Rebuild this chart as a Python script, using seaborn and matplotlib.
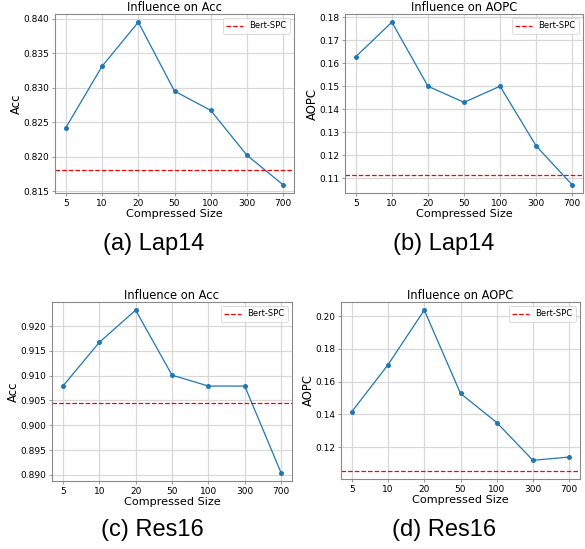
import matplotlib
matplotlib.use("Agg")
import matplotlib.pyplot as plt
import seaborn as sns
import pandas as pd

sizes = ["5", "10", "20", "50", "100", "300", "700"]
lap14_acc = [0.8242, 0.8331, 0.8395, 0.8295, 0.8267, 0.8202, 0.8159]
lap14_aopc = [0.1628, 0.1778, 0.1500, 0.1430, 0.1500, 0.1241, 0.1072]
res16_acc = [0.9079, 0.9167, 0.9232, 0.9101, 0.9079, 0.9079, 0.8904]
res16_aopc = [0.1417, 0.1704, 0.2038, 0.1528, 0.1350, 0.1119, 0.1139]
baselines = [0.8181, 0.1113, 0.9044, 0.1054]
titles = ["Influence on Acc", "Influence on AOPC", "Influence on Acc", "Influence on AOPC"]
ylabels = ["Acc", "AOPC", "Acc", "AOPC"]
captions = ["(a) Lap14", "(b) Lap14", "(c) Res16", "(d) Res16"]
baseline_name = "Bert-SPC"

sns.set_style("whitegrid", {"axes.edgecolor": "#8a8a8a", "grid.color": "#d8d8d8",
                            "xtick.bottom": True, "ytick.left": True})
plt.rcParams['font.family'] = ['DejaVu Sans']
plt.rcParams['text.color'] = 'black'
plt.rcParams['axes.labelcolor'] = 'black'
plt.rcParams['xtick.labelcolor'] = 'black'
plt.rcParams['ytick.labelcolor'] = 'black'

fig = plt.figure(figsize=(5.85, 5.49), dpi=100)
W, H = 585, 549
boxes = [(55, 14, 294, 193), (345, 14, 583, 193), (52, 302, 292, 481), (341, 302, 580, 479)]
series = [lap14_acc, lap14_aopc, res16_acc, res16_aopc]
cap_pos = [(154, 244), (444, 244), (152, 530), (444, 530)]

for i in range(4):
    l, t, r, b = boxes[i]
    ax = fig.add_axes([l / W, (H - b) / H, (r - l) / W, (b - t) / H])
    df = pd.DataFrame({"size": sizes, "val": series[i]})
    sns.lineplot(data=df, x="size", y="val", ax=ax, marker="o", markersize=3.6,
                 markeredgewidth=0, color="#1f77b4", linewidth=0.9, sort=False)
    ax.axhline(baselines[i], color="red", linestyle="--", linewidth=0.9, label=baseline_name)
    ax.set_title(titles[i], fontsize=8.3, pad=2)
    ax.set_xlabel("Compressed Size", fontsize=8.1, labelpad=1)
    ax.set_ylabel(ylabels[i], fontsize=8.4, labelpad=0.5)
    ax.tick_params(axis="both", labelsize=6.5, length=2, width=0.6, color="#8a8a8a", pad=2)
    for s in ax.spines.values():
        s.set_linewidth(0.8)
    ax.grid(True, linewidth=0.9)
    leg = ax.legend(loc="upper right", fontsize=6, frameon=True, handlelength=2)
    leg.get_frame().set_linewidth(0.6)
    leg.get_frame().set_edgecolor("#cccccc")
    fig.text(cap_pos[i][0] / W, 1 - cap_pos[i][1] / H, captions[i], fontsize=17,
             family="Liberation Sans", ha="center", va="center")

fig.savefig("out.png", dpi=100)
